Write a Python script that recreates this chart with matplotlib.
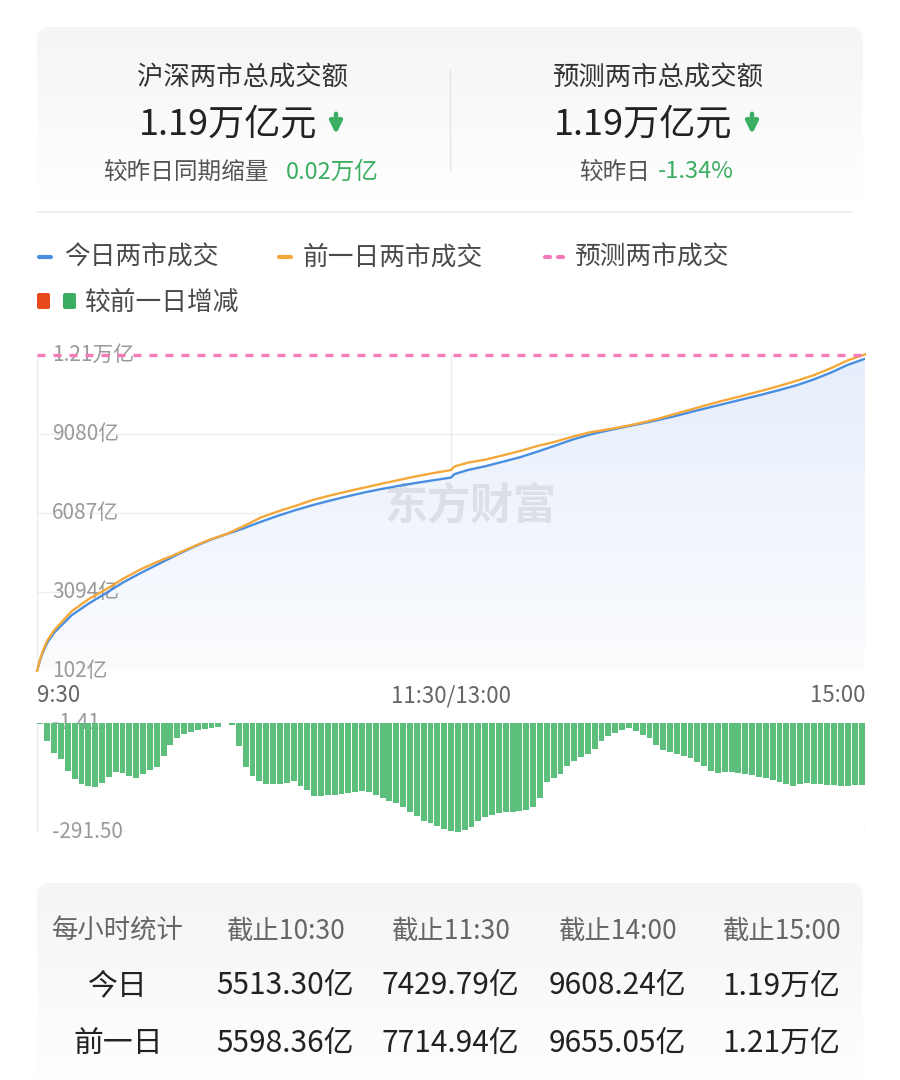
import numpy as np
import matplotlib.pyplot as plt
from matplotlib.patches import FancyBboxPatch
from matplotlib.colors import LinearSegmentedColormap
from matplotlib.transforms import blended_transform_factory

plt.rcParams['font.family'] = ['Noto Sans CJK SC', 'DejaVu Sans']

# 分钟数，从 9:30 开始，午休合并（11:30 与 13:00 同一位置）
minutes_line = [0, 1, 2, 3] + list(range(5, 121, 5)) + [121] + list(range(125, 241, 5))
today_cum = [102, 560, 900, 1180,
             1560, 2210, 2660, 3050, 3460, 3810, 4140, 4470, 4780, 5060, 5290, 5513,
             5760, 5990, 6200, 6390, 6560, 6720, 6870, 7000, 7120, 7230, 7330, 7430,
             7560,
             7720, 7860, 8030, 8200, 8410, 8630, 8860, 9050, 9200, 9340, 9470, 9608,
             9760, 9930, 10090, 10250, 10410, 10570, 10740, 10920, 11140, 11400, 11700, 11930]
prev_cum = [107, 600, 960, 1260,
            1650, 2360, 2830, 3195, 3600, 3950, 4245, 4510, 4800, 5075, 5295, 5598,
            5923, 6155, 6360, 6585, 6752, 6909, 7054, 7200, 7340, 7480, 7602, 7715,
            7850,
            7997, 8110, 8270, 8435, 8625, 8780, 8970, 9135, 9245, 9360, 9500, 9655,
            9845, 10025, 10210, 10380, 10545, 10715, 10895, 11090, 11300, 11565, 11870, 12095]

# 较前一日增减（亿），每 2 分钟
minutes_bar = np.arange(0, 241, 2)
diff_vals = [-5, -50, -80, -98, -128, -150, -163, -170, -171, -160,
             -145, -133, -135, -142, -147, -137, -126, -118, -90, -60,
             -40, -30, -25, -20, -17, -14, -11, -1.41, -8, -62,
             -118, -142, -157, -163, -165, -165, -160, -156, -168, -180,
             -195, -196, -193, -192, -190, -189, -186, -183, -184, -192,
             -200, -208, -215, -226, -238, -250, -261, -268, -275, -284,
             -289, -291.5, -285, -277, -262, -251, -246, -241, -239, -238,
             -236, -234, -226, -200, -158, -148, -137, -115, -103, -93,
             -83, -70, -50, -35, -27, -20, -16, -24, -33, -42,
             -60, -72, -78, -83, -88, -95, -104, -116, -128, -134,
             -132, -131, -134, -138, -141, -145, -149, -152, -158, -165,
             -169, -165, -162, -163, -165, -166, -166, -168, -168, -167,
             -166]

y_ticks = [102, 3094.75, 6087.5, 9080.25, 12073]
y_labels = ['102亿', '3094亿', '6087亿', '9080亿', '1.21万亿']
x_ticks = [0, 120, 240]
x_labels = ['9:30', '11:30/13:00', '15:00']
forecast = 12073
diff_range = [-291.50, -1.41]
diff_labels = ['-291.50', '-1.41']

table_header = ['每小时统计', '截止10:30', '截止11:30', '截止14:00', '截止15:00']
table_today = ['今日', '5513.30亿', '7429.79亿', '9608.24亿', '1.19万亿']
table_prev = ['前一日', '5598.36亿', '7714.94亿', '9655.05亿', '1.21万亿']

BLUE = '#4a8ee0'
ORANGE = '#f5a83a'
PINK = '#f47ab8'
GREEN = '#3cae62'
RED = '#e8491d'
BAR_GREEN = '#5cbf7c'

fig = plt.figure(figsize=(9, 10.8), dpi=100)

# 背景层，像素坐标
bg = fig.add_axes([0, 0, 1, 1])
bg.set_xlim(0, 900)
bg.set_ylim(1080, 0)
bg.axis('off')

card_cmap = LinearSegmentedColormap.from_list('card', ['#f4f5f7', '#ffffff'])


def card(y0, y1):
    patch = FancyBboxPatch((37, y0), 826, y1 - y0,
                           boxstyle='round,pad=0,rounding_size=14',
                           fc='none', ec='none')
    bg.add_patch(patch)
    grad = np.linspace(0, 1, 100).reshape(-1, 1)
    im = bg.imshow(grad, extent=[37, 863, y1, y0], cmap=card_cmap,
                   aspect='auto', zorder=0)
    im.set_clip_path(patch)


card(27, 205)
card(883, 1100)
bg.set_xlim(0, 900)
bg.set_ylim(1080, 0)

# 顶部汇总
bg.plot([450, 450], [70, 170], color='#e3e3e3', lw=1)
bg.plot([37, 852], [212, 212], color='#eeeeee', lw=1.2)

bg.text(243, 78, '沪深两市总成交额', ha='center', va='center', fontsize=19, color='#333333')
bg.text(228, 124, '1.19万亿元', ha='center', va='center', fontsize=26, color='#222222')
bg.annotate('', xy=(336, 137), xytext=(336, 111),
            arrowprops=dict(arrowstyle='-|>', color=GREEN, lw=3.2, mutation_scale=18))
bg.text(103, 172, '较昨日同期缩量', ha='left', va='center', fontsize=17, color='#555555')
bg.text(286, 172, '0.02万亿', ha='left', va='center', fontsize=17, color=GREEN)

bg.text(658, 78, '预测两市总成交额', ha='center', va='center', fontsize=19, color='#333333')
bg.text(643, 124, '1.19万亿元', ha='center', va='center', fontsize=26, color='#222222')
bg.annotate('', xy=(752, 137), xytext=(752, 111),
            arrowprops=dict(arrowstyle='-|>', color=GREEN, lw=3.2, mutation_scale=18))
bg.text(579, 172, '较昨日', ha='left', va='center', fontsize=17, color='#555555')
bg.text(658, 172, '-1.34%', ha='left', va='center', fontsize=17, color=GREEN)

# 图例
bg.plot([39, 51], [257, 257], color=BLUE, lw=3, solid_capstyle='round')
bg.text(64, 258, '今日两市成交', ha='left', va='center', fontsize=18.5, color='#4a4a4a')
bg.plot([279, 291], [257, 257], color=ORANGE, lw=3, solid_capstyle='round')
bg.text(303, 258, '前一日两市成交', ha='left', va='center', fontsize=18.5, color='#4a4a4a')
bg.plot([545, 550], [257, 257], color=PINK, lw=3, solid_capstyle='round')
bg.plot([558, 563], [257, 257], color=PINK, lw=3, solid_capstyle='round')
bg.text(575, 258, '预测两市成交', ha='left', va='center', fontsize=18.5, color='#4a4a4a')
bg.add_patch(FancyBboxPatch((37, 293), 13, 16, boxstyle='round,pad=0,rounding_size=2',
                            fc=RED, ec='none'))
bg.add_patch(FancyBboxPatch((63, 293), 13, 16, boxstyle='round,pad=0,rounding_size=2',
                            fc=GREEN, ec='none'))
bg.text(85, 303, '较前一日增减', ha='left', va='center', fontsize=18.5, color='#4a4a4a')

# 累计成交曲线
ax = fig.add_axes([37 / 900, 1 - 671 / 1080, 828 / 900, 316 / 1080])
ax.set_facecolor('none')
fill_cmap = LinearSegmentedColormap.from_list('fill', ['#fbfcfe', '#e6eefb'])
fill = ax.fill_between(minutes_line, today_cum, y_ticks[0], color='none', lw=0)
grad = np.linspace(0, 1, 100).reshape(-1, 1)
im = ax.imshow(grad, extent=[0, 240, y_ticks[0], y_ticks[-1]], origin='lower',
               cmap=fill_cmap, aspect='auto', zorder=1)
im.set_clip_path(fill.get_paths()[0], transform=ax.transData)

for y in y_ticks[:-1]:
    ax.axhline(y, color='#eeeeee', lw=1, zorder=0.5)
for x in x_ticks:
    ax.axvline(x, color='#ebebeb', lw=1, zorder=0.5)

trans = blended_transform_factory(ax.transAxes, ax.transData)
for y, lab in zip(y_ticks, y_labels):
    ax.text(15 / 828, y, lab, transform=trans, ha='left', va='center',
            fontsize=15, color='#9a9a9a', zorder=2)

ax.text(0.523, 0.52, '东方财富', transform=ax.transAxes, ha='center', va='center',
        fontsize=31, fontweight='bold', color='#dcdfe5', zorder=1.5)

ax.plot(minutes_line, today_cum, color=BLUE, lw=1.7, zorder=3)
ax.plot(minutes_line, prev_cum, color=ORANGE, lw=1.7, zorder=4, clip_on=False)
ax.axhline(forecast, color=PINK, lw=2.4, dashes=(2.4, 2.4), zorder=5, clip_on=False)

ax.set_xlim(0, 240)
ax.set_ylim(y_ticks[0], y_ticks[-1])
ax.set_xticks([])
ax.set_yticks([])
for s in ax.spines.values():
    s.set_visible(False)

# 时间刻度
bg.text(37, 696, x_labels[0], ha='left', va='center', fontsize=16, color='#666666')
bg.text(451, 696, x_labels[1], ha='center', va='center', fontsize=16, color='#666666')
bg.text(865, 696, x_labels[2], ha='right', va='center', fontsize=16, color='#666666')

# 较前一日增减柱
axb = fig.add_axes([37 / 900, 1 - 832 / 1080, 828 / 900, 109 / 1080])
axb.set_facecolor('none')
axb.bar(minutes_bar, diff_vals, width=1.72, color=BAR_GREEN, lw=0, zorder=2)
axb.axhline(diff_range[0], color='#eeeeee', lw=1, zorder=0.5)
axb.axvline(-1, color='#ebebeb', lw=1, zorder=0.5)
axb.axvline(241, color='#ebebeb', lw=1, zorder=0.5)
transb = blended_transform_factory(axb.transAxes, axb.transData)
for y, lab in zip(diff_range, diff_labels):
    axb.text(15 / 828, y, lab, transform=transb, ha='left', va='center',
             fontsize=15, color='#9a9a9a', zorder=1)
axb.set_xlim(-1, 241)
axb.set_ylim(diff_range)
axb.set_xticks([])
axb.set_yticks([])
for s in axb.spines.values():
    s.set_visible(False)

# 每小时统计表
col_x = [118, 285, 450, 617, 781]
for x, txt in zip(col_x, table_header):
    bg.text(x, 931, txt, ha='center', va='center', fontsize=19, color='#666666')
for x, txt in zip(col_x, table_today):
    bg.text(x, 986, txt, ha='center', va='center', fontsize=21.5, color='#222222')
for x, txt in zip(col_x, table_prev):
    bg.text(x, 1043, txt, ha='center', va='center', fontsize=21.5, color='#222222')

fig.savefig('out.png', dpi=100)
